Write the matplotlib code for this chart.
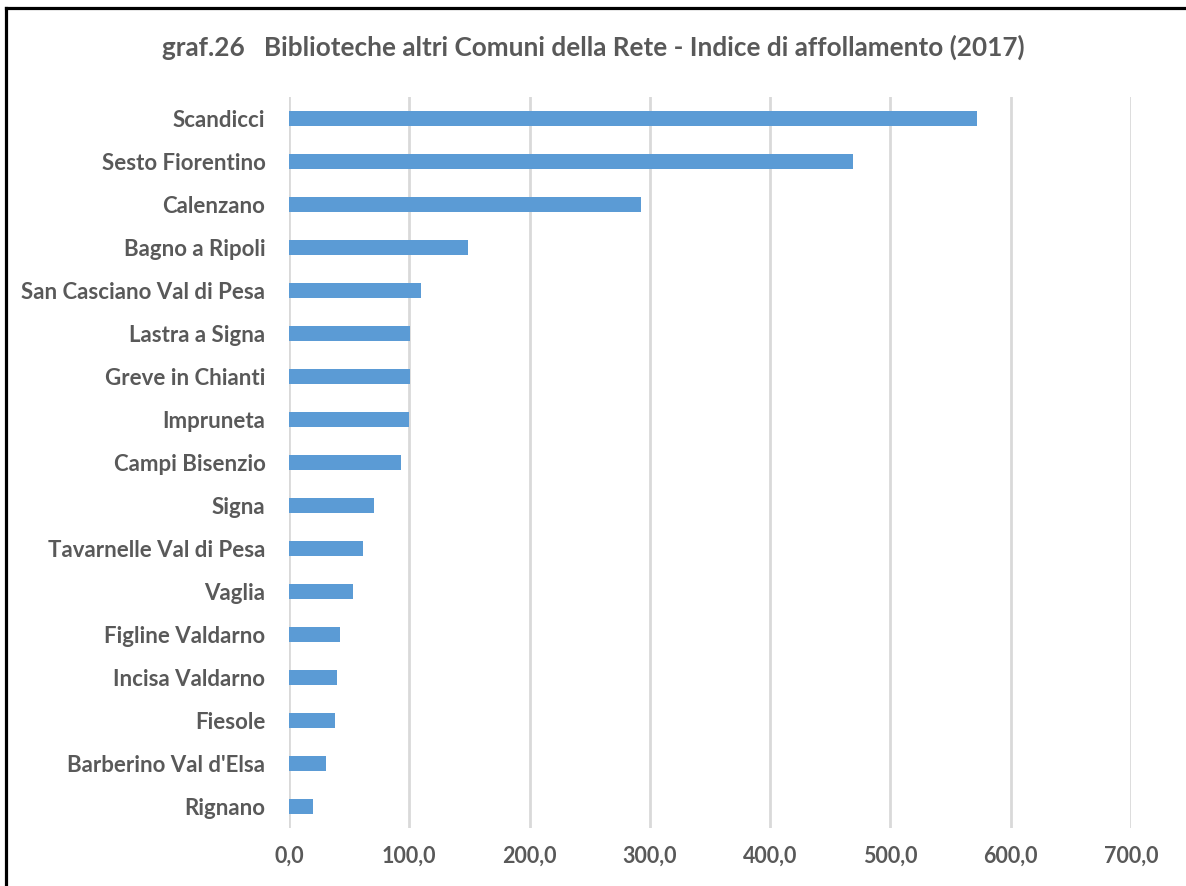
import matplotlib
matplotlib.use("Agg")
import matplotlib.pyplot as plt
from matplotlib.lines import Line2D

# dati (indice di affollamento 2017)
comuni = ["Scandicci", "Sesto Fiorentino", "Calenzano", "Bagno a Ripoli",
          "San Casciano Val di Pesa", "Lastra a Signa", "Greve in Chianti",
          "Impruneta", "Campi Bisenzio", "Signa", "Tavarnelle Val di Pesa",
          "Vaglia", "Figline Valdarno", "Incisa Valdarno", "Fiesole",
          "Barberino Val d'Elsa", "Rignano"]
indice = [571.8, 469.1, 292.4, 149.2, 109.9, 100.3, 100.2, 100.0, 92.8,
          70.6, 61.5, 53.2, 42.7, 40.2, 37.9, 30.5, 19.7]
tick_val = [0, 100, 200, 300, 400, 500, 600, 700]

grigio = "#595959"
plt.rcParams["font.family"] = ["Lato", "DejaVu Sans"]
plt.rcParams["font.weight"] = "bold"

fig = plt.figure(figsize=(11.86, 8.86), dpi=100)
ax = fig.add_axes([0.2437, 0.0655, 0.7099, 0.825])

pos = list(range(len(comuni)))
ax.barh(pos, indice, height=0.37, color="#5b9bd5", zorder=3)

ax.set_ylim(len(comuni) - 0.5, -0.5)
ax.set_xlim(0, 700)
ax.set_yticks(pos)
ax.set_yticklabels(comuni, fontsize=16, fontweight="bold", color=grigio)
ax.set_xticks(tick_val)
ax.set_xticklabels([("%.1f" % v).replace(".", ",") for v in tick_val],
                   fontsize=15.5, fontweight="bold", color=grigio)
ax.tick_params(axis="both", length=0)
ax.tick_params(axis="y", pad=17)
ax.tick_params(axis="x", pad=13)
ax.grid(axis="x", color="#d9d9d9", linewidth=2, zorder=0)
for s in ax.spines.values():
    s.set_visible(False)

fig.text(0.5, 1 - 47 / 886, "graf.26   Biblioteche altri Comuni della Rete - Indice di affollamento (2017)",
         ha="center", va="center", fontsize=18.8, fontweight="bold", color=grigio)

# cornice (solo lato sinistro e superiore visibili)
fig.add_artist(Line2D([6 / 1186, 6 / 1186], [0, 1 - 8 / 886], transform=fig.transFigure,
                      color="black", linewidth=2.3))
fig.add_artist(Line2D([6 / 1186, 1], [1 - 8 / 886, 1 - 8 / 886], transform=fig.transFigure,
                      color="black", linewidth=2.3))

fig.savefig("out.png", dpi=100)
